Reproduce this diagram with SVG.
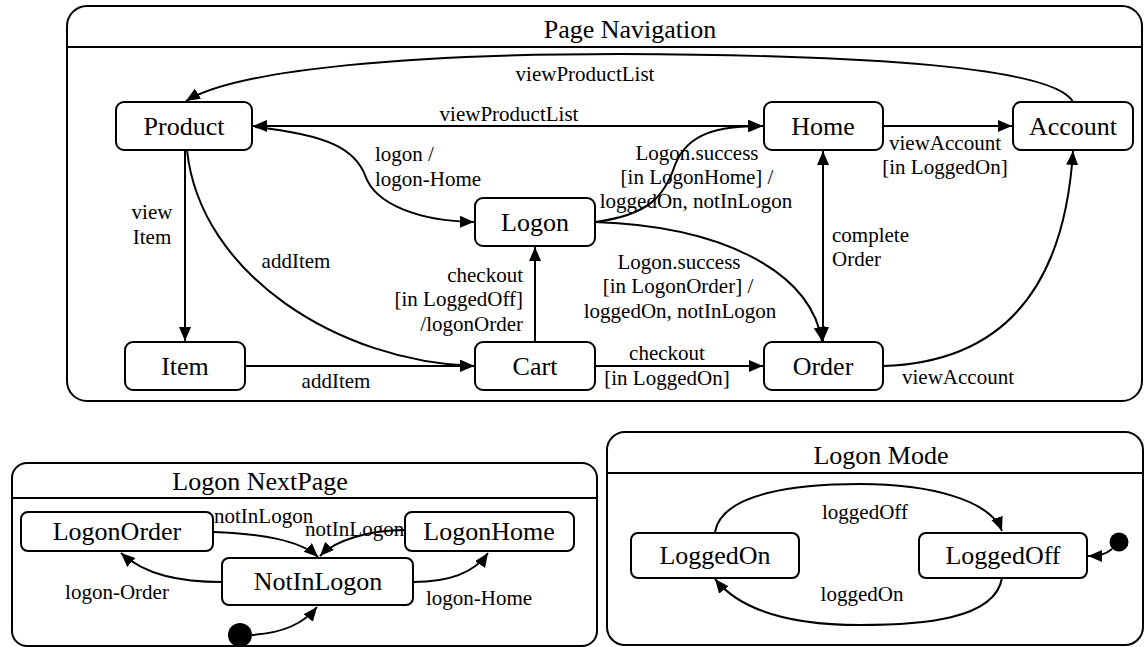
<svg xmlns="http://www.w3.org/2000/svg" width="1144" height="647" viewBox="0 0 1144 647">
<style>
.frame{fill:#fff;stroke:#000;stroke-width:2}
.sep{stroke:#000;stroke-width:2}
.node{fill:#fff;stroke:#000;stroke-width:2}
text{font-family:'Liberation Serif','Times New Roman',Times,'DejaVu Serif',serif;fill:#000}
.nt{font-size:26px;text-anchor:middle}
.title{font-size:26px;text-anchor:middle}
.lb{font-size:21px}
.c{text-anchor:middle}
.r{text-anchor:end}
.edge{fill:none;stroke:#000;stroke-width:2}
.arr{marker-end:url(#ah)}
.both{marker-end:url(#ah);marker-start:url(#ah)}
</style>
<defs>
<marker id="ah" markerUnits="userSpaceOnUse" markerWidth="16" markerHeight="14" refX="14" refY="6" orient="auto-start-reverse">
<path d="M0,0 L14,6 L0,12 z" fill="#000"/>
</marker>
</defs>

<g id="page-navigation">
<rect class="frame" x="67" y="6" width="1075" height="395" rx="20"/>
<line class="sep" x1="67" y1="47" x2="1142" y2="47"/>
<text class="title" x="630" y="38">Page Navigation</text>
</g>
<g id="logon-nextpage">
<rect class="frame" x="12" y="463" width="585" height="183" rx="15"/>
<line class="sep" x1="12" y1="498" x2="597" y2="498"/>
<text class="title" x="260" y="490">Logon NextPage</text>
</g>
<g id="logon-mode">
<rect class="frame" x="607" y="432" width="536" height="213" rx="18"/>
<line class="sep" x1="607" y1="473" x2="1143" y2="473"/>
<text class="title" x="881" y="464">Logon Mode</text>
</g>

<g id="connectors">
<path class="edge arr" d="M1073,102 C1055,68 880,55 620,54 C420,54 240,68 186,101"/>
<text class="lb c" x="585" y="81">viewProductList</text>
<line class="edge both" x1="253" y1="126" x2="763" y2="126"/>
<text class="lb c" x="509" y="121">viewProductList</text>
<path class="edge arr" d="M255,127 C330,135 355,150 365,175 C375,205 420,221 474,222"/>
<text class="lb" x="375" y="161">logon /</text>
<text class="lb" x="375" y="186">logon-Home</text>
<path class="edge arr" d="M595,222 C650,215 665,195 675,165 C688,132 720,126 762,126"/>
<text class="lb c" x="697" y="160">Logon.success</text>
<text class="lb c" x="697" y="184">[in LogonHome] /</text>
<text class="lb c" x="696" y="208">loggedOn, notInLogon</text>
<path class="edge arr" d="M595,222 C720,226 810,270 822,341"/>
<text class="lb c" x="679" y="269">Logon.success</text>
<text class="lb c" x="678" y="293">[in LogonOrder] /</text>
<text class="lb c" x="680" y="318">loggedOn, notInLogon</text>
<line class="edge both" x1="823" y1="151" x2="823" y2="341"/>
<text class="lb" x="832" y="242">complete</text>
<text class="lb" x="832" y="266">Order</text>
<line class="edge arr" x1="883" y1="126" x2="1012" y2="126"/>
<text class="lb c" x="945" y="150">viewAccount</text>
<text class="lb c" x="945" y="174">[in LoggedOn]</text>
<path class="edge arr" d="M883,366 C1010,362 1065,280 1073,151"/>
<text class="lb" x="902" y="384">viewAccount</text>
<line class="edge arr" x1="185" y1="150" x2="185" y2="341"/>
<text class="lb c" x="152" y="219">view</text>
<text class="lb c" x="152" y="244">Item</text>
<path class="edge arr" d="M187,150 C200,275 340,362 474,366"/>
<text class="lb c" x="296" y="268">addItem</text>
<line class="edge arr" x1="245" y1="366" x2="474" y2="366"/>
<text class="lb c" x="336" y="388">addItem</text>
<line class="edge arr" x1="535" y1="342" x2="535" y2="247"/>
<text class="lb r" x="523" y="282">checkout</text>
<text class="lb r" x="523" y="306">[in LoggedOff]</text>
<text class="lb r" x="523" y="331">/logonOrder</text>
<line class="edge arr" x1="595" y1="366" x2="763" y2="366"/>
<text class="lb c" x="667" y="360">checkout</text>
<text class="lb c" x="667" y="385">[in LoggedOn]</text>

<path class="edge arr" d="M252,635 C285,633 305,622 317,607"/>
<path class="edge arr" d="M213,532 C262,534 300,540 318,557"/>
<text class="lb" x="214" y="523">notInLogon</text>
<path class="edge arr" d="M405,530 C370,530 335,540 320,556"/>
<text class="lb" x="305" y="536">notInLogon</text>
<path class="edge arr" d="M222,582 C180,582 145,575 121,553"/>
<text class="lb c" x="117" y="599">logon-Order</text>
<path class="edge arr" d="M413,582 C450,582 475,572 488,553"/>
<text class="lb c" x="479" y="605">logon-Home</text>

<path class="edge arr" d="M715,532 C722,492 800,484 860,484 C930,484 990,500 1002,531"/>
<text class="lb c" x="865" y="519">loggedOff</text>
<path class="edge arr" d="M1002,578 C995,620 920,625 860,625 C790,625 740,610 715,579"/>
<text class="lb c" x="862" y="601">loggedOn</text>
<path class="edge arr" d="M1112,549 C1105,555 1098,556 1088,556"/>
</g>

<g id="product"><rect class="node" x="116" y="102" width="136" height="48" rx="8"/><text class="nt" x="184" y="135">Product</text></g>
<g id="home"><rect class="node" x="764" y="102" width="119" height="48" rx="8"/><text class="nt" x="823" y="135">Home</text></g>
<g id="account"><rect class="node" x="1013" y="102" width="120" height="48" rx="8"/><text class="nt" x="1073" y="135">Account</text></g>
<g id="logon"><rect class="node" x="475" y="198" width="120" height="48" rx="8"/><text class="nt" x="535" y="231">Logon</text></g>
<g id="item"><rect class="node" x="125" y="342" width="120" height="48" rx="8"/><text class="nt" x="185" y="375">Item</text></g>
<g id="cart"><rect class="node" x="475" y="342" width="120" height="48" rx="8"/><text class="nt" x="535" y="375">Cart</text></g>
<g id="order"><rect class="node" x="764" y="342" width="119" height="48" rx="8"/><text class="nt" x="823" y="375">Order</text></g>

<g id="logonorder"><rect class="node" x="21" y="512" width="192" height="39" rx="7"/><text class="nt" x="117" y="540">LogonOrder</text></g>
<g id="logonhome"><rect class="node" x="405" y="512" width="169" height="39" rx="7"/><text class="nt" x="489" y="540">LogonHome</text></g>
<g id="notinlogon"><rect class="node" x="222" y="558" width="191" height="47" rx="7"/><text class="nt" x="318" y="590">NotInLogon</text></g>
<g id="nextpage-initial"><circle cx="240" cy="635" r="12" fill="#000"/></g>

<g id="loggedon"><rect class="node" x="631" y="533" width="168" height="45" rx="7"/><text class="nt" x="715" y="564">LoggedOn</text></g>
<g id="loggedoff"><rect class="node" x="919" y="533" width="168" height="45" rx="7"/><text class="nt" x="1003" y="564">LoggedOff</text></g>
<g id="mode-initial"><circle cx="1119" cy="542" r="9.5" fill="#000"/></g>
</svg>
